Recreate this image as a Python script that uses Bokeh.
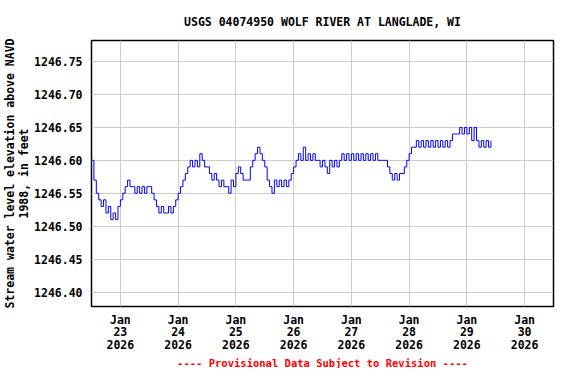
from datetime import datetime, timedelta
from bokeh.plotting import figure
from bokeh.models import (ColumnDataSource, FixedTicker, Range1d, Title,
                          PrintfTickFormatter)
from bokeh.embed import file_html
from bokeh.resources import INLINE

# ---- data ----
start_time = datetime(2026, 1, 22, 12, 0)   # first reading
step_hours = 1
elevation = [
    1246.60, 1246.57, 1246.55, 1246.54, 1246.53, 1246.54, 1246.52, 1246.53, 1246.51, 1246.52,
    1246.51, 1246.53, 1246.54, 1246.55, 1246.56, 1246.57, 1246.56, 1246.56, 1246.55, 1246.56,
    1246.55, 1246.56, 1246.55, 1246.56, 1246.56, 1246.55, 1246.54, 1246.53, 1246.52, 1246.53,
    1246.52, 1246.52, 1246.53, 1246.52, 1246.53, 1246.54, 1246.55, 1246.56, 1246.57, 1246.58,
    1246.59, 1246.60, 1246.59, 1246.60, 1246.59, 1246.61, 1246.60, 1246.59, 1246.59, 1246.58,
    1246.57, 1246.58, 1246.57, 1246.56, 1246.57, 1246.56, 1246.56, 1246.55, 1246.57, 1246.56,
    1246.58, 1246.59, 1246.58, 1246.57, 1246.57, 1246.57, 1246.59, 1246.60, 1246.61, 1246.62,
    1246.61, 1246.60, 1246.59, 1246.57, 1246.56, 1246.55, 1246.57, 1246.56, 1246.57, 1246.56,
    1246.57, 1246.56, 1246.57, 1246.58, 1246.59, 1246.60, 1246.61, 1246.60, 1246.62, 1246.60,
    1246.61, 1246.60, 1246.61, 1246.60, 1246.60, 1246.59, 1246.60, 1246.59, 1246.58, 1246.60,
    1246.59, 1246.60, 1246.59, 1246.60, 1246.61, 1246.60, 1246.61, 1246.60, 1246.61, 1246.60,
    1246.61, 1246.60, 1246.61, 1246.60, 1246.61, 1246.60, 1246.61, 1246.60, 1246.61, 1246.60,
    1246.60, 1246.60, 1246.60, 1246.59, 1246.58, 1246.57, 1246.58, 1246.57, 1246.58, 1246.58,
    1246.59, 1246.60, 1246.61, 1246.62, 1246.62, 1246.63, 1246.62, 1246.63, 1246.62, 1246.63,
    1246.62, 1246.63, 1246.62, 1246.63, 1246.62, 1246.63, 1246.62, 1246.63, 1246.62, 1246.63,
    1246.64, 1246.64, 1246.64, 1246.65, 1246.64, 1246.65, 1246.64, 1246.65, 1246.63, 1246.65,
    1246.63, 1246.62, 1246.63, 1246.62, 1246.63, 1246.62, 1246.63,
]
tick_dates = [datetime(2026, 1, d) for d in range(23, 31)]
tick_labels = ["Jan\n%d\n2026" % d.day for d in tick_dates]
y_ticks = [1246.40, 1246.45, 1246.50, 1246.55, 1246.60, 1246.65, 1246.70, 1246.75]
x_start, x_end = datetime(2026, 1, 22, 12), datetime(2026, 1, 30, 12)
y_start, y_end = 1246.378, 1246.782
title_text = "USGS 04074950 WOLF RIVER AT LANGLADE, WI"
y_label = "Stream water level elevation above NAVD\n1988, in feet"
footer_text = "---- Provisional Data Subject to Revision ----"

times = [start_time + timedelta(hours=step_hours * i) for i in range(len(elevation))]
epoch = datetime(1970, 1, 1)
def to_ms(d):
    return (d - epoch).total_seconds() * 1000.0

src = ColumnDataSource(dict(t=times, v=elevation))

FONT = "DejaVu Sans Mono"

p = figure(width=560, height=368, x_axis_type="datetime",
           output_backend="svg", toolbar_location=None,
           x_range=Range1d(x_start, x_end), y_range=Range1d(y_start, y_end),
           min_border_left=85, min_border_right=7, min_border_top=32,
           min_border_bottom=40)

p.title.text = title_text
p.title.align = "center"
p.title.text_font = FONT
p.title.text_font_style = "bold"
p.title.text_font_size = "11.5px"
p.title.text_color = "black"
p.title.standoff = 24

p.step("t", "v", source=src, mode="after", line_color="#0000ff", line_width=1)

tick_ms = [to_ms(d) for d in tick_dates]
p.xaxis.ticker = FixedTicker(ticks=tick_ms)
p.xaxis.major_label_overrides = {ms: lab for ms, lab in zip(tick_ms, tick_labels)}
p.yaxis.ticker = FixedTicker(ticks=y_ticks)
p.yaxis.formatter = PrintfTickFormatter(format="%.2f")
p.xaxis.minor_tick_line_color = None
p.yaxis.minor_tick_line_color = None

for ax in (p.xaxis, p.yaxis):
    ax.axis_line_color = None
    ax.major_tick_line_color = None
    ax.major_tick_out = 0
    ax.major_tick_in = 0
    ax.minor_tick_out = 0
    ax.minor_tick_in = 0
    ax.major_label_text_font = FONT
    ax.major_label_text_font_style = "bold"
    ax.major_label_text_font_size = "11.5px"
    ax.major_label_text_color = "black"
p.xaxis.major_label_text_line_height = 0.9
p.yaxis.major_label_standoff = 9
p.xaxis.major_label_standoff = 6

p.yaxis.axis_label = y_label
p.yaxis.axis_label_text_font = FONT
p.yaxis.axis_label_text_font_style = "bold"
p.yaxis.axis_label_text_font_size = "11.5px"
p.yaxis.axis_label_text_color = "black"
p.yaxis.axis_label_text_line_height = 1.0
p.yaxis.axis_label_standoff = 0

p.xgrid.ticker = FixedTicker(ticks=tick_ms)
p.ygrid.ticker = FixedTicker(ticks=y_ticks)
p.grid.grid_line_color = "#cccccc"
p.grid.grid_line_width = 1

p.outline_line_color = "black"
p.outline_line_width = 1.5
p.background_fill_color = "white"
p.border_fill_color = "white"

footer = Title(text=footer_text, align="center", text_color="red",
               text_font=FONT, text_font_style="bold", text_font_size="10.5px",
               standoff=0)
p.add_layout(footer, "below")

open("out.html", "w").write(file_html(p, INLINE))
